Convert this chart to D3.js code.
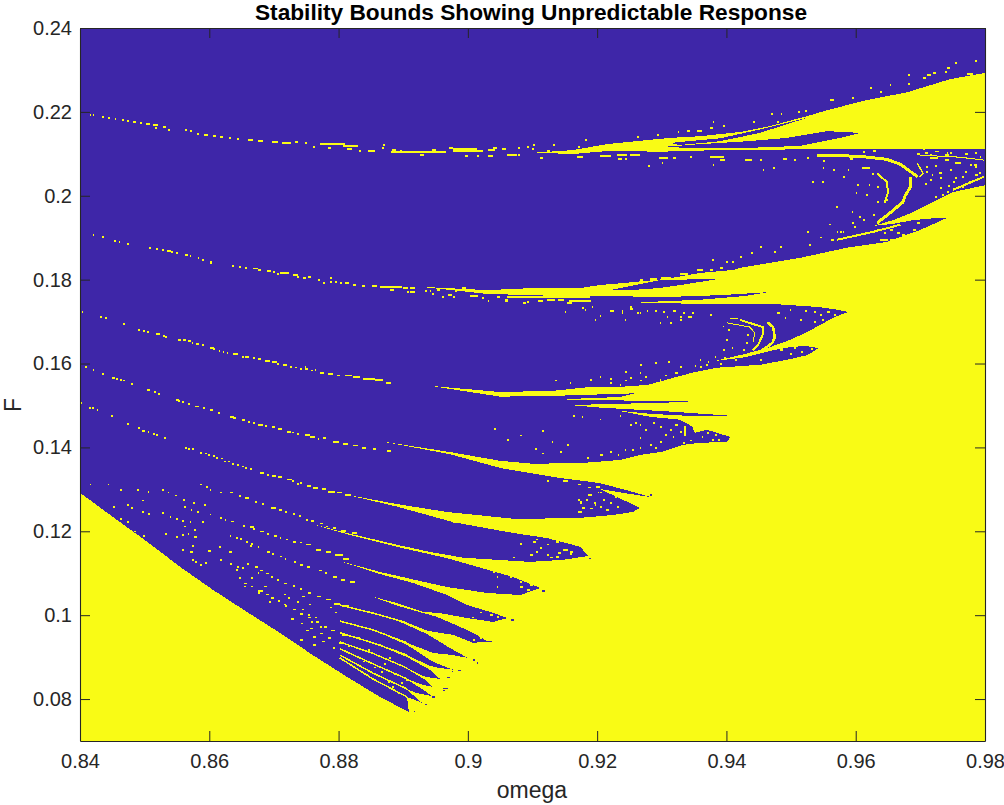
<!DOCTYPE html>
<html><head><meta charset="utf-8"><style>html,body{margin:0;background:#fff}svg{display:block}text{font-family:"Liberation Sans",Arial,sans-serif}</style>
<script src="https://cdnjs.cloudflare.com/ajax/libs/d3/7.8.5/d3.min.js"></script></head><body><div id="c"></div>
<script>
const omegaTicks=[.84,.86,.88,.9,.92,.94,.96,.98];
const fTicks=[.08,.1,.12,.14,.16,.18,.2,.22,.24];
const titleText="Stability Bounds Showing Unpredictable Response";
const OMEGA_STEP=.000155, F_STEP=.00036;

// bounded-response lobes: outline points [omega,F]
const lobeTop=[[.84,.24],[.98,.24],[.98,.2293],[.9746,.2278],[.968,.2247],[.9611,.2226],[.9556,.2204],[.9525,.219],[.9467,.2166],[.9421,.2152],[.9359,.2142],[.9313,.2138],[.9266,.2131],[.9215,.2123],[.9163,.2109],[.9096,.2102],[.84,.2102]];
const lobeA=[[.84,.211],[.9096,.2102],[.9166,.21],[.9218,.2107],[.9297,.2105],[.939,.2109],[.9545,.2111],[.98,.2111],[.98,.2025],[.9751,.2009],[.9689,.1961],[.9658,.1942],[.9627,.1928],[.9658,.1933],[.9689,.1942],[.9726,.1947],[.9741,.1947],[.9699,.1918],[.9648,.189],[.9586,.1876],[.9514,.1852],[.9421,.1828],[.941,.1823],[.9359,.1816],[.9308,.1802],[.9255,.1794],[.9204,.1787],[.9174,.178],[.9101,.178],[.903,.1775],[.8926,.1783],[.84,.1783]];
const lobeB=[[.84,.1787],[.8926,.1783],[.903,.1766],[.9143,.1761],[.9251,.176],[.9297,.1758],[.939,.1763],[.9463,.177],[.9429,.1761],[.9359,.1752],[.9297,.1748],[.9254,.1746],[.9359,.1742],[.9463,.1743],[.954,.1735],[.9565,.173],[.9588,.1723],[.9565,.1709],[.9545,.1692],[.9525,.1675],[.9498,.1656],[.9467,.1639],[.9429,.1623],[.9382,.1606],[.9429,.1615],[.9467,.163],[.9498,.1639],[.9521,.1642],[.9543,.1637],[.9525,.162],[.9494,.1609],[.9452,.1597],[.9385,.159],[.9347,.1578],[.9318,.1566],[.9278,.1549],[.9231,.1544],[.9189,.1544],[.9132,.1535],[.905,.1532],[.8941,.1547],[.84,.1547]];
const lobeC=[[.84,.1552],[.8941,.1547],[.905,.1521],[.9135,.1523],[.9259,.1529],[.9235,.152],[.9178,.1517],[.9143,.1513],[.9235,.1512],[.9359,.1509],[.9235,.1504],[.9158,.1501],[.9204,.1495],[.9308,.1486],[.9402,.1476],[.9344,.1475],[.9282,.148],[.9231,.1488],[.9282,.1473],[.9328,.1466],[.9347,.145],[.9351,.1435],[.937,.1442],[.9406,.1425],[.9401,.1413],[.9359,.1411],[.9333,.1406],[.9302,.139],[.9266,.1382],[.9235,.137],[.9178,.1363],[.9101,.1361],[.905,.1368],[.8972,.1389],[.8864,.1415],[.84,.1415]];
const lobeD=[[.84,.142],[.8864,.1415],[.8972,.1384],[.905,.1351],[.9143,.1327],[.9204,.1315],[.9255,.1294],[.9282,.1282],[.9255,.1288],[.9204,.1301],[.924,.1275],[.9266,.1256],[.9255,.1246],[.9225,.1239],[.9174,.1232],[.9101,.123],[.907,.123],[.8968,.1246],[.889,.1265],[.8813,.1287],[.84,.1287]];
const lobeE=[[.84,.1292],[.8813,.1287],[.889,.1259],[.8977,.1222],[.907,.1196],[.9122,.1184],[.9174,.1163],[.9186,.1141],[.9147,.1132],[.9096,.1127],[.9045,.1132],[.8993,.1137],[.8941,.1151],[.889,.1168],[.8813,.1196],[.876,.1217],[.84,.1217]];
const lobeF=[[.84,.1222],[.876,.1217],[.8813,.1193],[.889,.1163],[.8968,.1136],[.907,.1091],[.9112,.1065],[.9081,.1048],[.903,.1053],[.8968,.1067],[.8864,.1103],[.8802,.1129],[.84,.1129]];
const lobeG=[[.84,.1134],[.8802,.1129],[.8864,.1098],[.8915,.1077],[.8968,.1048],[.8999,.1024],[.9034,.1008],[.9062,.0993],[.9039,.0984],[.8999,.0993],[.8957,.1005],[.8931,.1008],[.889,.1029],[.8853,.1044],[.84,.1044]];
const lobeH=[[.84,.1048],[.8853,.1044],[.889,.1023],[.8952,.0996],[.8988,.0972],[.9008,.0958],[.9031,.0937],[.9008,.0934],[.8977,.0953],[.8937,.0963],[.8906,.0982],[.8853,.1005],[.84,.1005]];
const lobeI=[[.84,.1012],[.8853,.1005],[.8895,.0984],[.8937,.0955],[.8972,.0922],[.9,.0898],[.8977,.0905],[.8946,.091],[.8906,.0934],[.8853,.0965],[.84,.0965]];
const lobeJ=[[.84,.097],[.8853,.0965],[.8906,.0929],[.8946,.0889],[.8977,.087],[.8957,.0874],[.8941,.0879],[.8906,.0905],[.8853,.0934],[.84,.0934]];
const lobeK=[[.84,.0939],[.8853,.0934],[.8906,.09],[.8941,.087],[.8957,.0848],[.8934,.0853],[.8906,.0874],[.8853,.0908],[.84,.0908]];
const lobeL=[[.84,.0913],[.8853,.0908],[.8906,.0872],[.8934,.0846],[.8945,.0829],[.8926,.0836],[.8906,.0848],[.8853,.0884],[.84,.0884]];
const lobeM=[[.84,.0889],[.8853,.0884],[.8906,.0846],[.8926,.0827],[.8945,.0807],[.8919,.0815],[.8906,.0824],[.8853,.0862],[.84,.0862]];
const lobeN=[[.84,.0867],[.8853,.0862],[.8906,.0822],[.8929,.0791],[.8906,.0805],[.8853,.0848],[.84,.0848]];
const lobeP=[[.84,.0853],[.8853,.0848],[.8906,.0803],[.8909,.0767],[.8864,.0798],[.8802,.0846],[.84,.0846]];
const sliverA=[[.9313,.2126],[.939,.2137],[.9452,.2158],[.9525,.2186],[.9452,.215],[.939,.213],[.9328,.2121]];
const sliverB=[[.9607,.215],[.9556,.2154],[.9494,.2138],[.9432,.213],[.9359,.2123],[.9297,.2116],[.9359,.2114],[.9432,.2114],[.9514,.2119],[.9576,.2138]];
const sliverC=[[.9220,.1775],[.9297,.1799],[.939,.1802],[.9328,.1787],[.9297,.1780],[.9251,.1775]];
// unbounded wedge below the lowest forcing boundary
const lowerWedge=[[.84,.1292],[.8451,.1234],[.8504,.1175],[.8555,.1115],[.8606,.106],[.8658,.1008],[.8709,.0958],[.876,.0905],[.8813,.0853],[.8864,.0805],[.8909,.0769],[.8909,.07],[.84,.07]];
// thin unpredictable arcs
const arcs=[
{w:3,p:[[.954,.2097],[.9607,.2094],[.9648,.2087],[.9669,.2075],[.9696,.2045]]},
{w:3,p:[[.9685,.2045],[.9685,.2021],[.9677,.2002],[.9673,.1985],[.9653,.1959],[.9633,.1935]]},
{w:2,p:[[.9633,.2054],[.9648,.2033],[.965,.2009],[.9645,.1983]]},
{w:1,p:[[.9699,.2097],[.9761,.2092],[.9798,.2085]]},
{w:1.5,p:[[.9695,.2078],[.9704,.2054],[.9699,.2045]]},
{w:2,p:[[.975,.2014],[.9798,.2045]]},
{w:2,p:[[.9571,.1895],[.9627,.1914],[.9669,.1931]]},
{w:2.5,p:[[.9463,.1699],[.9472,.1687],[.9475,.1663],[.9471,.1649],[.9452,.1628]]},
{w:2,p:[[.9421,.1704],[.9456,.1687],[.9456,.1668],[.9449,.1644],[.9441,.1632]]},
{w:1,p:[[.9401,.1697],[.9436,.1687],[.9444,.1673],[.9441,.1651]]},
{w:1.5,p:[[.9336,.145],[.9336,.1427]]}];
// solid filaments running into the fan of narrow lobes
const fanLines=[
[[.8802,.1024],[.8853,.1005],[.8906,.0982]],
[[.8802,.0986],[.8853,.0965],[.8906,.0934]],
[[.8802,.0958],[.8853,.0934],[.8906,.0905]],
[[.8802,.0936],[.8853,.0909],[.8906,.0874]],
[[.8802,.092],[.8853,.0884],[.8906,.0848]],
[[.8802,.0905],[.8853,.0862],[.8906,.0824]],
[[.8802,.0898],[.8853,.0848],[.8906,.0805]]];
// runs of unpredictable samples: [omega, F, number of samples]
const runs1=[[.8415,.2193,1],[.842,.2193,1],[.8434,.2188,2],[.8443,.2186,2],[.8454,.2183,1],[.8465,.2181,2],[.8473,.2178,2],[.8482,.2176,3],[.8493,.2174,1],[.8502,.2171,4],[.8513,.2169,5],[.8516,.2162,2],[.8528,.2164,3],[.8536,.2157,2],[.8562,.2157,2],[.857,.2155,2],[.8581,.2147,2],[.8592,.2145,4],[.8606,.2143,3],[.8617,.214,3],[.863,.2138,2],[.8643,.2135,2],[.866,.2133,5],[.8675,.2131,5],[.8697,.2128,6],[.8712,.2126,9],[.8732,.2128,3],[.8748,.2126,2],[.8771,.2124,22],[.876,.2116,2],[.8784,.2114,3],[.8807,.2119,15],[.8805,.2124,3],[.8813,.2112,5],[.8845,.2107,7],[.8832,.2107,1],[.8869,.2121,2],[.8867,.2114,2],[.8881,.2104,55],[.8883,.2109,4],[.8895,.2107,2],[.8945,.2109,4],[.8977,.2112,24],[.8977,.2107,24],[.8971,.2114,4],[.8926,.2097,4],[.8996,.2095,3],[.9014,.2095,2],[.9031,.2095,5],[.9011,.2107,8],[.9031,.2109,7],[.9039,.2114,4],[.9053,.2112,4],[.9061,.2097,10],[.9078,.2114,2],[.9078,.2097,2],[.9092,.2116,2],[.9099,.2112,2],[.9101,.2121,1],[.9122,.2107,3],[.9132,.2121,2],[.9112,.209,3],[.9169,.2092,6],[.9204,.2095,11],[.9231,.2097,10],[.9232,.2088,4],[.9243,.2088,2],[.9251,.2097,10],[.9181,.2133,2],[.917,.2116,2],[.9262,.214,2],[.9293,.2145,2],[.9279,.2071,2],[.9296,.209,5],[.9305,.209,3],
[.9469,.2195,2],[.9484,.2195,1],[.9441,.2176,2],[.9478,.2176,2],[.9522,.2202,1],[.9511,.22,1],[.9622,.2257,2],[.9681,.2288,2],[.971,.2288,4],[.9741,.2305,3],[.9785,.2321,2],[.9754,.2317,2],[.9594,.2233,2],[.956,.2228,4],[.9653,.2264,1],[.9681,.2267,1],[.9719,.2293,3],[.9738,.2295,2],[.9704,.2281,3],[.9772,.229,6],[.9638,.2247,2],[.9375,.2162,3],[.9355,.2155,5],[.9325,.2152,1],[.9339,.2155,3],[.9395,.2166,1],[.9379,.2176,1]];
const runsA=[[.9297,.209,5],[.9318,.209,3],[.9344,.2092,2],[.9375,.2092,14],[.939,.2085,5],[.9429,.2085,7],[.9452,.2085,2],[.9379,.2073,1],[.93,.2078,1],[.9472,.2066,2],[.9456,.2061,1],[.9505,.2085,2],[.9487,.2088,4],[.9549,.2083,2],[.9549,.2066,1],[.9565,.2061,1],[.9588,.2061,1],[.961,.2066,8],[.9625,.2052,2],[.9581,.2045,2],[.9548,.2033,2],[.9533,.2033,1],[.9616,.2002,1],[.96,.2007,1],[.9602,.2026,2],[.962,.2026,1],[.9633,.2021,2],[.9648,.199,1],[.9633,.1985,1],[.957,.1973,2],[.9525,.1914,1],[.9594,.1961,1],
[.9715,.2097,2],[.9741,.2102,1],[.9704,.2111,2],[.9729,.2054,3],[.9709,.2057,2],[.9751,.2033,2],[.9765,.2021,2],[.9775,.2033,2],[.9757,.2009,2],[.9741,.2009,2],[.9765,.2045,1],[.9783,.2073,3],[.9785,.2069,2],[.979,.2054,2],[.9753,.2078,3],[.9723,.209,3],[.9708,.2069,2],[.9738,.2097,4],[.9792,.2092,1],[.9627,.2107,3],[.9611,.2104,2],[.9695,.21,3],[.9633,.209,3],[.9576,.2097,4],[.9591,.2088,3],[.9525,.209,2],
[.9707,.2102,3],[.9723,.2105,4],[.9746,.2102,2],[.9769,.21,3],[.9785,.2102,2],[.9715,.209,6],[.9738,.2085,4],[.9758,.2078,3],[.9777,.2073,2],[.9723,.2071,2],[.9746,.2061,2],[.9769,.2057,2],[.9785,.2049,3],[.973,.2042,2],[.9753,.2042,2],[.9715,.2038,1],[.9707,.2028,2],[.973,.2019,2],[.9743,.2023,2],[.9718,.2049,1],[.9733,.2002,2],[.9723,.1997,1],
[.9653,.1918,3],[.9644,.1911,2],[.9633,.1918,2],[.9664,.1911,3],[.9638,.1895,8],[.9653,.1895,5],[.9672,.1907,3],[.9689,.1918,3],[.9695,.1935,3],[.9576,.1914,2],[.9544,.19,2],[.9571,.1914,1],[.958,.1914,1],[.9558,.1931,2],[.9594,.1935,2],[.9605,.1949,2],[.9627,.1954,1],[.9611,.1942,2],[.9597,.1926,2],[.9545,.19,2],[.9562,.1895,3],[.9528,.1883,1],[.9483,.1878,2],[.9474,.1866,1],[.9452,.1878,1],[.9438,.1864,2],[.9421,.1854,1],[.9409,.1842,2],[.94,.1842,1],[.9378,.1847,1],[.939,.1828,3],[.9375,.1823,3],[.9355,.1823,6],[.9299,.1804,10],[.9328,.1814,8],[.9282,.1802,7],[.9266,.1799,3]];
const runs2=[[.842,.1907,1],[.8434,.1902,2],[.8453,.1892,1],[.846,.189,1],[.8473,.1885,1],[.8507,.1876,2],[.8518,.1873,1],[.8527,.1871,1],[.8535,.1868,4],[.8541,.1866,2],[.8549,.1864,2],[.8562,.1859,3],[.857,.1856,1],[.8582,.1852,1],[.8589,.1847,2],[.8601,.1842,2],[.8601,.184,2],[.8635,.1833,2],[.8646,.183,2],[.8655,.1828,2],[.8668,.1826,5],[.8675,.1823,3],[.8689,.1821,4],[.8699,.1818,2],[.8709,.1816,9],[.8705,.1814,2],[.873,.1811,5],[.8736,.1806,2],[.8745,.1804,3],[.8753,.1806,3],[.8768,.1799,2],[.8776,.1792,2],[.8787,.1804,2],[.8787,.1794,2],[.8795,.1794,2],[.8802,.1792,2],[.881,.1792,4],[.8822,.1787,3],[.8836,.1785,3],[.8852,.1785,5],[.8864,.1783,10],[.8876,.1783,14],[.888,.1775,4],[.89,.178,5],[.8911,.178,5],[.8906,.1771,2],[.8911,.1771,5],[.8934,.1773,1],[.8941,.1773,1],[.8952,.1775,3],[.8945,.1766,1],[.896,.1759,2],[.8969,.1764,4],[.8977,.1759,2],[.8991,.178,4],[.898,.1773,2],[.9003,.1761,8],[.9022,.1756,1],[.9031,.1749,1],[.9045,.1759,3],[.9057,.1752,3],[.9057,.1749,3],[.9061,.1759,83],[.9092,.1747,2],[.9085,.1744,3],[.9109,.1749,5],[.9123,.1752,8],[.9139,.1752,6],[.9156,.1749,22],[.9154,.1744,5],[.9177,.1733,2],[.922,.1725,4],[.9238,.1725,1],[.9251,.1735,2],[.9251,.173,3],[.9262,.1721,2],[.9277,.1725,1],[.929,.1725,2],[.9302,.1723,1],[.9317,.1725,3],[.9333,.1721,1],[.9328,.1711,2],[.934,.1711,2],[.9347,.1721,2],[.9308,.1711,1],[.9192,.1735,1]];
const runs3=[[.8403,.1723,1],[.8431,.1711,2],[.8439,.1709,2],[.8467,.1694,2],[.8489,.168,2],[.8498,.1678,1],[.8504,.1675,2],[.8518,.1671,4],[.8532,.1663,2],[.8529,.1666,2],[.8552,.1656,3],[.856,.1656,3],[.8567,.1654,3],[.8573,.1649,1],[.8579,.1647,3],[.8589,.1644,1],[.8601,.1637,4],[.8606,.1635,2],[.8615,.163,1],[.8621,.1628,1],[.8627,.1625,1],[.8636,.1623,5],[.865,.1616,2],[.8656,.1616,4],[.8668,.1613,2],[.8675,.1611,3],[.8686,.1606,5],[.8697,.1604,5],[.8705,.1599,2],[.8714,.1597,4],[.8725,.1592,2],[.8733,.159,2],[.874,.1587,2],[.8748,.1592,1],[.8748,.1587,3],[.8757,.1583,2],[.8763,.1585,1],[.8771,.1578,4],[.8784,.1575,5],[.8798,.1571,3],[.881,.1571,7],[.8822,.1568,7],[.8838,.1563,12],[.8857,.1561,8],[.8873,.1554,5]];
const runs4=[[.8408,.1592,1],[.842,.1585,1],[.8434,.1575,2],[.8449,.1566,3],[.8456,.1563,2],[.8462,.1561,1],[.8467,.1559,2],[.8479,.1551,2],[.8504,.1537,3],[.8515,.1532,2],[.8521,.1527,2],[.8549,.1513,3],[.8552,.1511,2],[.8558,.1508,1],[.8567,.1504,2],[.8578,.1497,4],[.8591,.1494,2],[.8601,.1489,3],[.8614,.1482,2],[.8632,.1473,4],[.8637,.147,3],[.8651,.1465,3],[.866,.1461,1],[.8668,.1458,2],[.8675,.1454,5],[.8686,.1451,2],[.8697,.1449,3],[.8706,.1444,4],[.872,.1437,4],[.8728,.1435,2],[.8736,.1432,2],[.8748,.143,5],[.8756,.1425,5],[.8768,.142,1],[.8776,.1423,3],[.8791,.1413,6],[.8807,.1408,5],[.8822,.1404,5],[.8836,.1399,4],[.8853,.1396,3],[.8875,.1392,4]];
const runs5=[[.84,.1506,1],[.8414,.1494,2],[.8418,.1494,2],[.8426,.1489,1],[.8448,.1475,1],[.8473,.1456,1],[.849,.1446,2],[.8496,.1439,3],[.8505,.1437,1],[.8513,.1432,2],[.8518,.143,1],[.853,.1423,1],[.8563,.1399,1],[.8567,.1396,2],[.8573,.1396,2],[.8586,.1387,2],[.8593,.1385,2],[.8598,.1382,2],[.8606,.138,2],[.8611,.1375,2],[.8618,.1373,2],[.8623,.1366,2],[.8629,.1366,2],[.8635,.1361,2],[.8643,.1358,2],[.8651,.1354,2],[.8655,.1351,2],[.8663,.1349,2],[.8678,.1339,4],[.8689,.1334,2],[.8697,.1332,4],[.8706,.133,4],[.872,.1323,5],[.8728,.132,2],[.8736,.1313,2],[.874,.1315,2],[.8751,.1308,4],[.876,.1303,5],[.8774,.1301,4],[.8784,.1294,7],[.8798,.1292,5],[.881,.1287,6],
[.8443,.1311,1],[.8462,.1299,1],[.8488,.1299,2],[.8505,.1294,1],[.8527,.1299,1],[.8536,.1292,1],[.8547,.1285,1],[.8559,.1275,2],[.8415,.1311,1],[.8496,.1273,2],[.8575,.1268,1],[.8592,.1263,1],[.8586,.1311,1],[.8595,.1306,1],[.8601,.1299,1],[.8617,.1292,1],[.8451,.1258,2],[.8473,.1263,2],[.8479,.1256,1],[.8496,.1246,1],[.8505,.1241,2],[.8527,.1244,1],[.8539,.1234,1],[.8549,.1229,2],[.8558,.1225,1],[.857,.1222,1],[.8462,.1229,2],[.8473,.1222,1],[.8577,.1203,2],[.8589,.1222,2],[.8561,.1211,2],[.8484,.1199,2],[.8532,.1194,2],[.8549,.1187,2],[.8558,.1191,1],[.8567,.1194,1],[.8576,.1187,3],[.8498,.1189,2],[.8496,.117,2],[.8504,.1156,2],[.857,.1151,3],[.8573,.1165,2],[.8558,.1156,1],[.8598,.1153,3],[.8615,.1163,2],[.863,.1151,3],[.8617,.1132,1],[.8573,.1132,2],[.8578,.1127,1],[.8593,.1125,2],[.8586,.112,2],[.8632,.1122,2],[.8643,.1115,1],[.8651,.1113,1],[.8663,.1165,2]];
const runs6=[[.8632,.1293,3],[.8646,.1284,2],[.8656,.1279,4],[.867,.127,2],[.8682,.1265,2],[.8695,.1256,5],[.8708,.1251,3],[.8717,.1246,2],[.873,.1241,1],[.8739,.1237,2],[.875,.1227,1],[.8757,.1225,3],[.8772,.1218,3],[.8781,.1211,1],[.8792,.1208,3],[.8804,.1201,5],[.882,.1196,5],
[.8561,.1258,1],[.8571,.1251,1],[.8581,.1246,1],[.8601,.124,1],[.8617,.1232,1],[.8624,.1227,1],[.8633,.1223,3],[.8652,.1213,2],[.8663,.121,4],[.8668,.1206,2],[.8679,.1199,4],[.869,.1194,2],[.87,.1189,3],[.8709,.1184,1],[.8719,.118,2],[.8729,.1175,3],[.874,.1173,2],[.875,.1168,5],[.8765,.1156,5],[.8781,.1151,5],[.8795,.1144,8],[.8807,.1134,6],
[.8632,.1189,1],[.8641,.1184,2],[.8648,.1182,1],[.8657,.1175,2],[.8665,.117,2],[.8675,.1163,1],[.8689,.1151,3],[.8697,.1146,2],[.871,.114,2],[.8717,.1134,1],[.8731,.1127,2],[.874,.112,3],[.8751,.1115,3],[.8769,.1106,3],[.8779,.1101,2],[.8791,.1091,4],[.8803,.1084,4],[.8817,.1079,5],
[.8659,.1122,2],[.8671,.1115,3],[.8679,.1106,3],[.8687,.1099,3],[.8696,.1091,2],[.8705,.1084,1],[.8715,.1075,3],[.8729,.107,2],[.874,.1063,2],[.8752,.1053,3],[.8767,.1044,4],[.8781,.1037,5],[.8793,.1027,6],[.8805,.1022,7],
[.8653,.1075,3],[.8664,.1068,2],[.8675,.1058,2],[.8687,.1049,3],[.8696,.1041,3],[.8706,.1034,2],[.8717,.1022,2],[.8729,.1013,3],[.874,.1003,3],[.8753,.0994,3],[.8765,.0984,3],[.8777,.0972,3],[.8789,.0963,4],[.8805,.0953,4],
[.8727,.0991,3],[.8742,.098,2],[.8756,.0968,3],[.8771,.0956,3],[.8784,.0946,3],[.88,.0934,3],[.8702,.0958,3],[.871,.0948,3],[.874,.0941,3],[.875,.0963,3],[.876,.0948,3],[.8775,.0937,3],[.8792,.0922,2],[.876,.0929,3],
[.8642,.1108,2],[.8646,.1089,2],[.8664,.1089,2],[.8675,.1101,1],[.8684,.1068,3],[.8653,.1068,2],[.8676,.1053,2],[.8678,.1058,3],[.8716,.1049,2],[.8721,.1041,2],[.8693,.1032,1],[.8716,.1025,2],[.8736,.1032,2],[.8744,.1013,1],[.8752,.1001,2],[.8758,.0984,2],[.8772,.0972,2],[.8764,.0994,2],[.8743,.1044,3],[.8786,.1018,2],[.8755,.1025,1],[.8794,.1006,2],
[.8815,.0927,2],[.883,.0946,2],[.8845,.0917,2],[.8862,.0929,2],[.8878,.0898,2],[.8838,.0889,2],[.8855,.0875,2],[.887,.0884,2],[.8885,.086,2],[.8866,.0865,2],[.8842,.0858,2],[.8897,.0838,2],[.8883,.0829,2],[.8905,.0846,2],[.8892,.0815,2],[.8876,.0841,2]];
const runsB=[[.9405,.1707,8],[.9394,.1688,1],[.9403,.168,2],[.9432,.1668,2],[.943,.1649,2],[.94,.1656,1],[.9395,.1632,1],[.9408,.1637,1],[.9426,.1632,2],[.9421,.1616,2],[.9397,.1613,1],[.9382,.1616,1],[.9371,.1604,1],[.9359,.1609,1],[.9368,.1597,2],[.939,.1599,2],[.9414,.1609,1],[.9452,.1609,1],[.9483,.1632,3],[.9505,.1637,1],[.9531,.1635,2],[.9516,.1628,2],[.9498,.1623,2],[.9514,.1704,1],[.9521,.1725,2],[.9536,.1723,1],[.9545,.1716,2],[.9556,.1723,3],[.9548,.1704,2],[.9536,.1699,2],[.9567,.1716,2],[.9498,.1728,1],[.9479,.1721,2],[.949,.1709,1],[.9375,.1716,1],[.9344,.1711,1],[.9328,.1704,2],[.9313,.1697,1],[.9266,.1721,1],[.9238,.1721,1],[.9243,.1704,1],[.9204,.1713,1],[.9181,.1728,1],[.915,.1723,1],[.9297,.1697,1],[.9196,.1704,1],
[.9266,.1597,2],[.9289,.1601,2],[.9309,.1604,2],[.9328,.1592,2],[.9351,.1594,1],[.9359,.1592,2],[.9243,.158,2],[.9266,.1578,1],[.9305,.1571,1],[.932,.1578,3],[.9274,.1568,2],[.9297,.1561,1],[.9251,.1566,2],[.922,.1554,2],[.9189,.1561,1],[.9158,.1554,1],[.9135,.1559,1],[.9235,.1549,1],[.922,.1563,1],[.9267,.156,2],[.9243,.1559,2],[.9204,.1568,1]];
const runsC=[[.9251,.1454,2],[.9259,.1458,1],[.9235,.1475,1],[.9266,.1454,1],[.9274,.1442,2],[.9286,.1458,2],[.9297,.1449,2],[.9305,.143,2],[.9313,.1442,2],[.9321,.1454,3],[.9317,.1425,1],[.9328,.1437,2],[.9297,.1413,2],[.9289,.1399,2],[.9282,.1406,1],[.9266,.1399,1],[.9254,.1394,2],[.9243,.1394,1],[.9232,.1382,1],[.922,.1389,1],[.9333,.1411,2],[.9344,.1416,2],[.9266,.1423,1],[.9204,.1382,3],[.9184,.1375,2],[.937,.1434,2],[.9382,.143,2],[.9378,.1418,2],[.9362,.1425,1],[.9387,.1418,2],[.9176,.1473,1],[.9204,.1466,1],
[.9162,.1475,2],[.9115,.1439,2],[.9061,.1418,2],[.9081,.1428,1],[.904,.1444,2],[.913,.1413,1],[.9154,.1406,1],[.9104,.1396,2],[.9115,.1385,1],[.9143,.1389,1]];
const runsD=[[.9171,.1275,2],[.9174,.127,2],[.9186,.1287,2],[.9195,.1268,2],[.9201,.1292,1],[.9177,.1256,3],[.9189,.1254,3],[.9123,.132,2],[.9147,.132,5],[.9171,.1311,3],[.9186,.1304,3],[.9198,.1306,4],[.9189,.1287,2],[.9204,.1292,2],[.9209,.1275,2],[.922,.1268,2],[.9228,.1282,2],[.9204,.1258,2],[.9196,.1263,1],[.917,.1246,4],[.9183,.1275,1],[.9174,.1268,1],[.9231,.1258,2],[.9214,.1251,3],
[.9081,.1196,1],[.9096,.1191,2],[.9106,.118,2],[.9122,.1168,2],[.9137,.1175,3],[.9147,.1156,3],[.9158,.1151,3],[.9137,.1139,3],[.9122,.1144,2],[.9106,.1151,2],[.9096,.1144,3],[.907,.1137,2],[.905,.1208,3],[.9039,.1215,2],[.8977,.1222,3],[.915,.1156,3],[.9158,.1146,2],[.914,.1148,3],[.9127,.1137,3],[.9112,.116,2],[.9081,.117,2],[.91,.1175,3],
[.9045,.1067,1],[.9081,.1067,3],[.9092,.106,3],[.9096,.1072,3],[.9039,.1103,2],[.9045,.1091,1],[.9065,.1091,2],[.9081,.1079,2],[.9034,.1001,3],[.9045,.0996,2],[.9019,.1006,2],[.9006,.0994,2],[.9019,.0946,2],[.9008,.0941,2]];
// isolated samples beyond lobe tips that remain bounded (drawn in the dark colour)
const darkRuns=[[.9031,.0937,4],[.8985,.0868,3],[.8968,.0851,3],[.8962,.0825,5],[.8945,.0805,3],[.8961,.082,2],[.8975,.0866,1],[.8933,.0787,2],[.8916,.077,1],[.9008,.0893,2],[.9014,.0886,1],[.9067,.0989,3],[.9188,.1135,2],[.9115,.1058,3],[.9281,.1286,2]];

const W=1004,H=805;
const x=d3.scaleLinear([.84,.98],[80,985]);
const y=d3.scaleLinear([.07,.24],[741,28]);
const INDIGO="#3e26a8",YELLOW="#f9fb15",INK="#262626";
const svg=d3.select("#c").append("svg").attr("width",W).attr("height",H).attr("viewBox",`0 0 ${W} ${H}`);
const line=d3.line().x(d=>x(d[0])).y(d=>y(d[1]));
const plot=svg.append("g").attr("shape-rendering","crispEdges");
plot.append("rect").attr("x",x(.84)).attr("y",y(.24)).attr("width",x(.98)-x(.84)).attr("height",y(.07)-y(.24)).attr("fill",YELLOW);
const lobes=[lobeTop,lobeA,lobeB,lobeC,lobeD,lobeE,lobeF,lobeG,lobeH,lobeI,lobeJ,lobeK,lobeL,lobeM,lobeN,lobeP,sliverA,sliverB,sliverC];
plot.selectAll("path.lobe").data(lobes).join("path").attr("class","lobe").attr("d",d=>line(d)+"Z").attr("fill",INDIGO);
plot.append("path").attr("d",line(lowerWedge)+"Z").attr("fill",YELLOW);
plot.selectAll("path.arc").data(arcs).join("path").attr("class","arc").attr("d",d=>line(d.p)).attr("fill","none").attr("stroke",YELLOW).attr("stroke-width",d=>d.w);
plot.selectAll("path.fan").data(fanLines).join("path").attr("class","fan").attr("d",line).attr("fill","none").attr("stroke",YELLOW).attr("stroke-width",1.5);
const allRuns=[].concat(runs1,runsA,runs2,runs3,runs4,runs5,runs6,runsB,runsC,runsD);
const runRect=(sel,fill)=>sel.attr("x",d=>x(d[0])).attr("y",d=>y(d[1]+F_STEP/2)).attr("width",d=>Math.max(1.5,x(d[0]+d[2]*OMEGA_STEP)-x(d[0]))).attr("height",y(0)-y(F_STEP)).attr("fill",fill);
plot.selectAll("rect.run").data(allRuns).join("rect").attr("class","run").call(runRect,YELLOW);
plot.selectAll("rect.dark").data(darkRuns).join("rect").attr("class","dark").call(runRect,INDIGO);

const fmt=d=>String(+d.toFixed(2));
const axes=svg.append("g");
const style=g=>{g.selectAll(".domain").attr("stroke",INK).attr("stroke-width",1.1);g.selectAll(".tick line").attr("stroke",INK).attr("stroke-width",1);g.selectAll("text").attr("fill",INK).attr("font-size",20).attr("font-family",'"Liberation Sans",Arial,sans-serif');};
axes.append("g").attr("transform",`translate(0,${y(.07)})`).call(d3.axisBottom(x).tickValues(omegaTicks).tickFormat(fmt).tickSizeInner(-10).tickSizeOuter(0).tickPadding(13)).call(style);
axes.append("g").attr("transform",`translate(0,${y(.24)})`).call(d3.axisTop(x).tickValues(omegaTicks).tickFormat("").tickSizeInner(-10).tickSizeOuter(0)).call(style);
axes.append("g").attr("transform",`translate(${x(.84)},0)`).call(d3.axisLeft(y).tickValues(fTicks).tickFormat(fmt).tickSizeInner(-10).tickSizeOuter(0).tickPadding(8)).call(style);
axes.append("g").attr("transform",`translate(${x(.98)},0)`).call(d3.axisRight(y).tickValues(fTicks).tickFormat("").tickSizeInner(-10).tickSizeOuter(0)).call(style);
svg.append("text").attr("x",531).attr("y",20).attr("text-anchor","middle").attr("font-weight","bold").attr("font-size",22.7).attr("fill","#000").text(titleText);
svg.append("text").attr("x",532).attr("y",798).attr("text-anchor","middle").attr("font-size",23).attr("fill",INK).text("omega");
svg.append("text").attr("transform","translate(21,405) rotate(-90)").attr("text-anchor","middle").attr("font-size",23).attr("fill",INK).text("F");
</script></body></html>
